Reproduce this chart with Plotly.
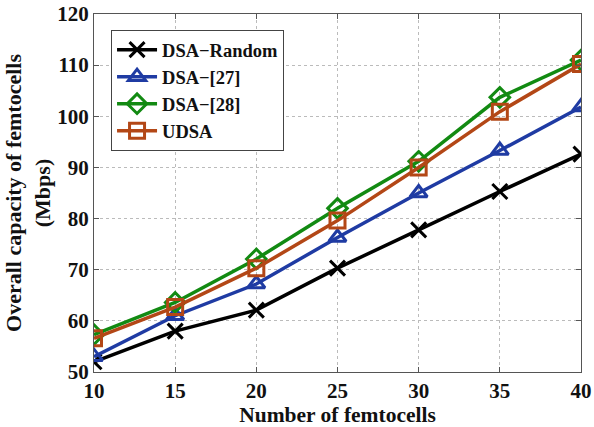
import plotly.graph_objects as go

x_vals = [10, 15, 20, 25, 30, 35, 40]
dsa_random = [52.0, 58.0, 62.1, 70.3, 77.8, 85.3, 92.6]
dsa_27 = [53.0, 61.0, 67.2, 76.3, 85.0, 93.3, 101.8]
dsa_28 = [57.3, 63.6, 72.1, 82.0, 91.2, 103.7, 111.0]
udsa = [56.6, 62.7, 70.3, 79.6, 90.0, 100.9, 110.2]

series = [
    ("DSA\u2212Random", dsa_random, "#000000", "x-thin-open"),
    ("DSA\u2212[27]", dsa_27, "#1f3ba3", "triangle-up-open"),
    ("DSA\u2212[28]", dsa_28, "#128a12", "diamond-open"),
    ("UDSA", udsa, "#b34716", "square-open"),
]

fig = go.Figure()
for name, ys, col, sym in series:
    fig.add_trace(go.Scatter(
        x=x_vals, y=ys, name=name, mode="lines+markers",
        line=dict(color=col, width=3.5),
        marker=dict(symbol=sym, size=15, color=col, line=dict(color=col, width=3)),
    ))

font_family = "Liberation Serif, Times New Roman, serif"
axis_common = dict(
    showline=True, linecolor="#555555", linewidth=1, mirror="ticks",
    ticks="inside", ticklen=5, tickcolor="#555555",
    showgrid=True, gridcolor="#bbbbbb", griddash="dot", gridwidth=1,
    zeroline=False, automargin=False,
    tickfont=dict(family=font_family, size=21, color="#111111", weight="bold"),
)

fig.update_layout(
    width=594, height=427,
    margin=dict(l=94, r=13, t=14, b=55),
    paper_bgcolor="white", plot_bgcolor="white",
    font=dict(family=font_family, color="#111111"),
    xaxis=dict(range=[10, 40], tickvals=x_vals,
               title=dict(text="<b>Number of femtocells</b>", font=dict(family=font_family, size=21.5), standoff=6),
               **axis_common),
    yaxis=dict(range=[50, 120], tickvals=[50, 60, 70, 80, 90, 100, 110, 120],
               title=dict(text="<b>Overall capacity of femtocells<br>(Mbps)</b>", font=dict(family=font_family, size=22), standoff=0),
               **axis_common),
    legend=dict(x=0.035, y=0.955, xanchor="left", yanchor="top",
                bgcolor="white", bordercolor="#444444", borderwidth=1,
                font=dict(family=font_family, size=18.5, color="#111111", weight="bold"),
                tracegroupgap=0, itemwidth=40),
    showlegend=True,
)

fig.write_html("out.html")
